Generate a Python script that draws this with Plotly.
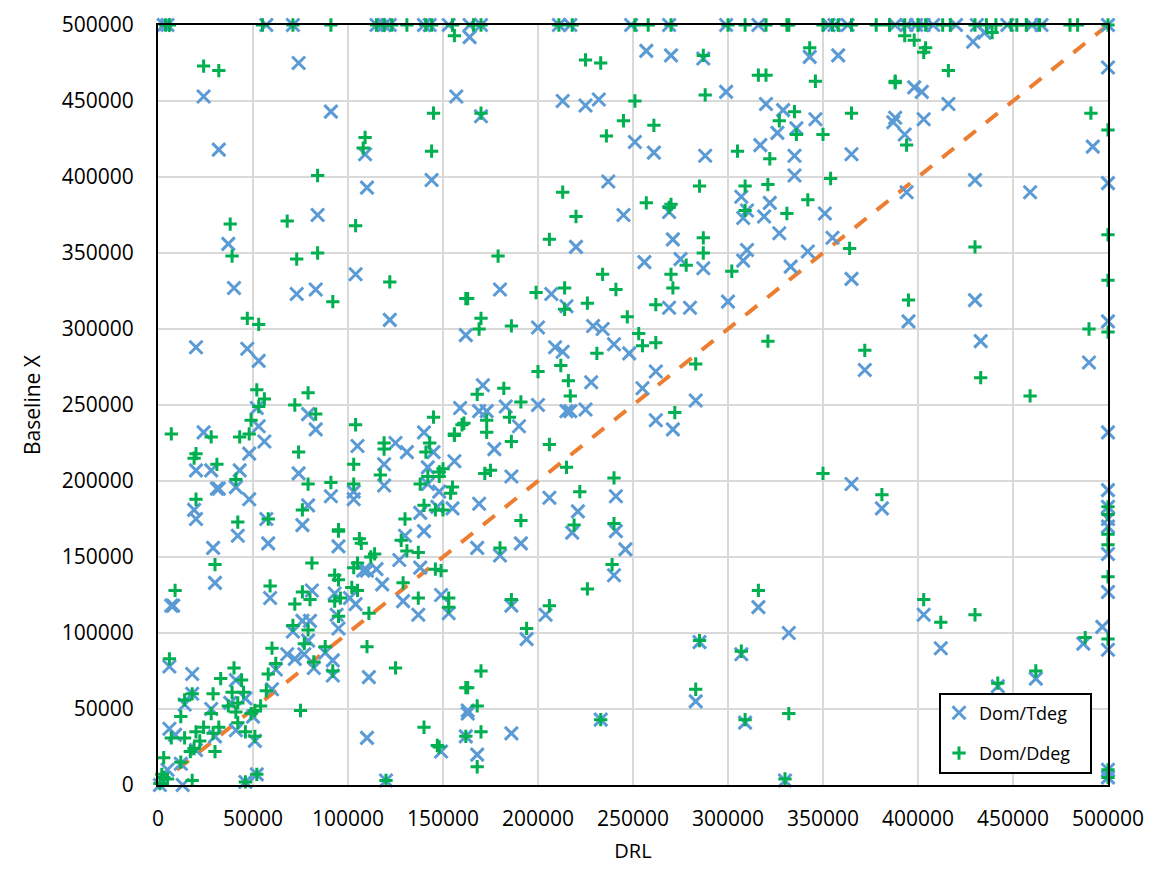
import plotly.graph_objects as go

# values, in thousands
tdeg_top = [3, 5, 57, 71, 115, 119, 122, 140, 143, 153, 164, 170, 211, 217, 249, 269, 299, 316, 353, 356, 363,
            388, 394, 399, 403, 408, 420, 431, 447, 460, 465, 500]
tdeg_x = [24, 32, 74, 91, 110, 109, 157, 164, 170, 144, 213, 225, 232, 237, 251, 257, 261, 270, 287, 288, 299,
          307, 308, 310, 317, 320, 319, 322, 326, 327, 329, 335, 335, 336, 342, 343, 346, 351, 355, 358, 365,
          365, 387, 388, 393, 394, 398, 402, 403, 416, 429, 430, 430, 433, 395, 459, 492, 500, 500, 500, 500,
          500, 500, 500, 500, 500, 500, 497, 500, 487, 490, 435, 500, 500, 37, 84, 104,
          245, 269, 271, 256, 220, 229, 234, 240, 248, 255, 262, 262, 271, 275, 280, 269, 287, 283, 300, 308,
          310, 333, 372, 365, 381, 228, 225, 215, 217, 213, 215, 209, 207, 200, 200, 180, 171, 169, 173, 177,
          183, 190, 186,
          29, 42, 58, 95, 130, 140, 30, 7, 8, 127, 138, 108, 110, 115, 118, 59, 81, 93, 104, 101, 129, 149, 137,
          153, 163, 80, 76, 71, 94, 95, 79, 68, 72, 77, 82, 88, 92, 92, 62, 111, 6, 18, 18, 14, 28, 41, 46, 38,
          60, 50, 6, 9, 30, 41, 20, 12, 5, 1, 13, 51, 52, 46, 120, 110, 149, 162, 168,
          40, 73, 83, 122, 162, 20, 47, 53, 159, 52, 79, 53, 83, 24, 140, 56, 125, 131, 145, 48, 156, 105, 119,
          142, 20, 28, 43, 74, 41, 31, 32, 48, 119, 142, 148, 91, 103, 103, 79, 138, 147, 155, 19, 20, 57, 76,
          285, 283, 307, 309, 316, 332, 330, 233, 240, 246, 241, 241, 221, 218, 206, 204, 194, 191, 186, 186,
          180, 168, 169, 163, 412, 403, 442, 462]
tdeg_y = [453, 418, 475, 443, 393, 415, 453, 492, 440, 398, 450, 447, 451, 397, 423, 483, 416, 480, 478, 414, 456,
          387, 373, 378, 421, 448, 374, 383, 429, 363, 444, 401, 414, 432, 351, 479, 438, 376, 360, 480, 415,
          333, 436, 439, 428, 390, 459, 456, 438, 448, 489, 398, 319, 292, 305, 390, 420, 472, 396, 305, 232,
          194, 183, 175, 170, 152, 127, 104, 89, 93, 278, 495, 10, 5, 356, 375, 336,
          375, 377, 359, 344, 354, 302, 300, 290, 284, 261, 272, 240, 234, 346, 314, 314, 340, 253, 318, 345,
          352, 341, 273, 198, 182, 265, 247, 246, 246, 285, 315, 288, 323, 301, 250, 326, 263, 246, 246, 221,
          249, 236, 203,
          156, 164, 159, 157, 164, 167, 133, 118, 118, 148, 143, 141, 141, 142, 132, 123, 128, 126, 119, 123,
          121, 125, 112, 113, 49, 108, 108, 101, 112, 103, 95, 86, 83, 86, 77, 87, 82, 72, 76, 71, 78, 73, 60,
          53, 50, 69, 57, 54, 63, 45, 37, 33, 32, 36, 23, 14, 10, 0, 0, 29, 7, 2, 3, 31, 22, 32, 20,
          327, 323, 326, 306, 296, 288, 287, 279, 248, 248, 244, 236, 234, 232, 232, 226, 225, 219, 219, 218,
          213, 223, 211, 209, 207, 207, 207, 205, 196, 195, 195, 188, 197, 198, 193, 190, 193, 188, 184, 179,
          183, 182, 181, 175, 175, 171,
          94, 55, 86, 41, 117, 100, 3, 43, 138, 155, 167, 190, 180, 166, 189, 112, 96, 159, 118, 34, 151, 156,
          185, 47, 90, 112, 65, 70]

ddeg_top = [4, 6, 55, 71, 91, 115, 119, 123, 131, 141, 144, 155, 166, 170, 211, 218, 251, 258, 270, 300, 309, 320,
            331, 332, 350, 355, 358, 365, 378, 385, 393, 400, 404, 413, 417, 430, 436, 441, 449, 452, 457, 464,
            480, 484, 500]
ddeg_x = [24, 32, 156, 170, 225, 233, 287, 288, 261, 245, 251, 236, 145, 144, 109, 108, 84, 213, 220, 257, 270,
          269, 285, 302, 305, 309, 309, 320, 316, 322, 321, 327, 331, 335, 336, 342, 343, 346, 350, 354, 365,
          364, 388, 388, 394, 393, 398, 403, 404, 416, 395, 430, 433, 372, 350, 381, 403, 412, 430, 442, 462,
          459, 490, 491, 500, 500, 500, 500, 500, 500, 500, 500, 500, 500, 500, 500, 488, 439,
          38, 39, 68, 73, 84, 104,
          206, 214, 214, 226, 234, 241, 247, 231, 212, 216, 217, 199, 200, 179, 186, 170, 169, 163, 168, 161,
          156, 173, 173, 175, 172, 182, 186, 185, 191, 206, 215, 222, 219, 240, 240, 239, 226, 206, 194, 191,
          186, 180, 146, 153, 147, 163, 168, 170, 170, 168, 253, 255, 262, 262, 270, 271, 272, 278, 283, 287,
          287, 283, 285, 307, 309, 316, 321, 332, 330, 233,
          30, 9, 59, 81, 95, 107, 128, 131, 137, 149, 114, 112, 105, 103, 93, 95, 129, 102, 105, 76, 80, 72, 96,
          93, 137, 111, 153, 95, 71, 79, 77, 88, 60, 110, 125, 62, 82, 92, 58, 57, 6, 40, 33, 44, 39, 45, 29,
          18, 14, 37, 42, 41, 54, 51, 49, 75, 12, 28, 42, 32, 24, 20, 29, 46, 51, 7, 14, 22, 19, 17, 30, 3, 12,
          18, 2, 3, 5, 1, 46, 52, 120, 140, 148, 162, 162,
          92, 47, 53, 122, 162, 52, 79, 56, 53, 72, 83, 49, 145, 104, 160, 7, 28, 43, 48, 156, 143, 119, 119,
          141, 74, 20, 19, 31, 103, 150, 148, 142, 148, 117, 41, 103, 91, 79, 138, 155, 154, 20, 76, 140, 146,
          150, 130, 42, 58, 95, 106]
ddeg_y = [473, 470, 493, 442, 477, 475, 480, 454, 434, 437, 450, 427, 442, 417, 426, 419, 401, 390, 374, 383, 382,
          380, 394, 338, 417, 394, 378, 467, 467, 412, 395, 437, 376, 443, 428, 385, 485, 463, 428, 399, 442,
          353, 463, 462, 421, 493, 490, 482, 485, 470, 319, 354, 268, 286, 205, 191, 122, 107, 112, 67, 75,
          256, 300, 442, 431, 362, 332, 298, 183, 178, 165, 158, 137, 96, 10, 5, 97, 495,
          369, 348, 371, 346, 350, 368,
          359, 327, 313, 317, 336, 326, 308, 284, 276, 266, 256, 324, 272, 348, 302, 307, 300, 320, 257, 238,
          231, 240, 232, 207, 205, 261, 226, 242, 252, 224, 209, 193, 171, 202, 172, 145, 129, 118, 103, 174,
          122, 156, 142, 123, 26, 64, 52, 75, 35, 12, 297, 289, 316, 291, 336, 327, 245, 342, 277, 350,
          360, 63, 95, 88, 43, 128, 292, 47, 4, 43,
          145, 128, 131, 146, 167, 159, 161, 154, 153, 141, 152, 150, 146, 143, 138, 135, 133, 130, 128, 127,
          122, 119, 123, 121, 123, 113, 117, 111, 105, 102, 93, 91, 90, 91, 77, 80, 81, 75, 73, 62, 83, 77, 70,
          69, 61, 61, 60, 60, 56, 52, 54, 48, 52, 49, 47, 49, 45, 47, 41, 38, 38, 35, 34, 35, 32, 31, 31, 29,
          24, 22, 22, 18, 15, 3, 7, 5, 4, 1, 2, 7, 3, 38, 25, 32, 64,
          318, 307, 303, 331, 320, 260, 258, 254, 249, 250, 244, 240, 242, 237, 237, 231, 229, 229, 231, 230,
          225, 225, 221, 219, 219, 218, 215, 211, 211, 208, 206, 203, 203, 204, 201, 198, 199, 198, 198, 196,
          192, 188, 181, 184, 181, 181, 175, 173, 175, 168, 162]

diag_x = [10, 500]
diag_y = [10, 500]

tick_vals = list(range(0, 500001, 50000))

# merge the row of points pinned to the top of the axis
tdeg_all_x = [v * 1000 for v in tdeg_x + tdeg_top]
tdeg_all_y = [v * 1000 for v in tdeg_y + [500] * len(tdeg_top)]
ddeg_all_x = [v * 1000 for v in ddeg_x + ddeg_top]
ddeg_all_y = [v * 1000 for v in ddeg_y + [500] * len(ddeg_top)]

fig = go.Figure()
fig.add_trace(go.Scatter(
    x=[v * 1000 for v in diag_x], y=[v * 1000 for v in diag_y],
    mode="lines", showlegend=False,
    line=dict(color="#ED7D31", width=4, dash="15px,13px"),
))
fig.add_trace(go.Scatter(
    x=tdeg_all_x, y=tdeg_all_y, mode="markers", name="Dom/Tdeg", legendgroup="t",
    marker=dict(symbol="x-thin", size=13, color="#5B9BD5", line=dict(color="#5B9BD5", width=3)),
    cliponaxis=False,
))
fig.add_trace(go.Scatter(
    x=ddeg_all_x, y=ddeg_all_y, mode="markers", name="Dom/Ddeg", legendgroup="d",
    marker=dict(symbol="cross-thin", size=9.5, color="#00B050", line=dict(color="#00B050", width=3)),
    cliponaxis=False,
))

axis_style = dict(
    range=[0, 500000], tickvals=tick_vals, ticks="", showline=True, mirror=True,
    linecolor="black", linewidth=2, gridcolor="#D9D9D9", gridwidth=1.7, zeroline=False,
    tickformat="d", tickfont=dict(size=21, color="black"),
)
fig.update_xaxes(title=dict(text="DRL", font=dict(size=20, color="black"), standoff=13),
                 ticklabelstandoff=14, automargin="bottom", **axis_style)
fig.update_yaxes(title=dict(text="Baseline X", font=dict(size=21, color="black"), standoff=15),
                 ticklabelstandoff=18, automargin="left", **axis_style)

# legend box is wider than plotly will draw it, so the frame is a shape behind a bare legend
fig.add_shape(type="rect", xref="paper", yref="paper", x0=782 / 950, x1=933 / 950, y0=12 / 760, y1=91 / 760,
              line=dict(color="black", width=2), fillcolor="white", layer="above")

fig.update_layout(
    width=1143, height=864,
    margin=dict(l=150, r=43, t=17, b=87),
    paper_bgcolor="white", plot_bgcolor="white",
    font=dict(family="Open Sans, sans-serif", color="black"),
    legend=dict(
        x=781 / 950, y=90.5 / 760, xanchor="left", yanchor="top",
        bgcolor="rgba(0,0,0,0)", borderwidth=0,
        font=dict(size=18), tracegroupgap=14, itemwidth=30,
    ),
)

fig.write_html("out.html")
